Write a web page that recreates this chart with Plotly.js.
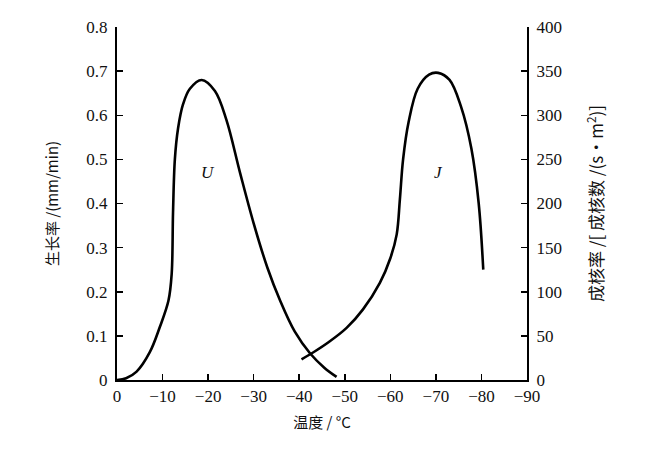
<!DOCTYPE html>
<html><head><meta charset="utf-8">
<script src="https://cdn.plot.ly/plotly-3.0.1.min.js"></script>
<style>html,body{margin:0;padding:0;background:#fff}#c{width:658px;height:464px}</style>
</head><body><div id="c"></div>
<script>
// Growth rate U (mm/min) vs temperature
const uTemp = [0, -2, -4.3, -7.2, -9.4, -11.3, -12, -12.3, -12.7, -13.4, -14.5, -16, -18.6, -21.5, -24, -27, -30, -33, -35.8, -39, -42.4, -45.5, -48.2];
const uRate = [0, 0.004, 0.019, 0.063, 0.12, 0.18, 0.24, 0.38, 0.5, 0.57, 0.625, 0.66, 0.68, 0.655, 0.59, 0.47, 0.355, 0.255, 0.18, 0.11, 0.06, 0.028, 0.007];
// Nucleation rate J (nuclei/(s·m²)) vs temperature
const jTemp = [-40.5, -43.3, -46.5, -50.4, -54, -57.7, -60, -61.4, -62.1, -62.8, -64, -66, -68.5, -70.5, -73, -75.5, -77.8, -79.4, -80.4];
const jRate = [23.5, 32, 43, 59, 80, 110, 138, 165, 205, 250, 292, 330, 346, 348, 340, 310, 262, 200, 125];
const xTicks = [0, -10, -20, -30, -40, -50, -60, -70, -80, -90];
const leftTicks = [0, 0.1, 0.2, 0.3, 0.4, 0.5, 0.6, 0.7, 0.8];
const rightTicks = [0, 50, 100, 150, 200, 250, 300, 350, 400];
const curveLabels = [{text: 'U', x: -20, y: 0.47}, {text: 'J', x: -70.5, y: 0.47}];

const serif = "'Liberation Serif', 'Times New Roman', serif";
const cjk = "'Noto Sans CJK SC', sans-serif";
const lineStyle = {color: '#000', width: 2.6, shape: 'spline', smoothing: 1};

const traces = [
  {x: uTemp, y: uRate, type: 'scatter', mode: 'lines', line: lineStyle, yaxis: 'y', hoverinfo: 'skip'},
  {x: jTemp, y: jRate, type: 'scatter', mode: 'lines', line: lineStyle, yaxis: 'y2', hoverinfo: 'skip'}
];

const axisCommon = {
  showgrid: false, zeroline: false, showline: true, linecolor: '#000', linewidth: 2,
  ticks: 'inside', ticklen: 6, tickwidth: 1.5, tickcolor: '#000',
  tickfont: {family: serif, size: 17, color: '#111'}
};

const layout = {
  width: 658, height: 464,
  margin: {l: 117, r: 131, t: 27, b: 84},
  paper_bgcolor: '#fff', plot_bgcolor: '#fff',
  showlegend: false,
  xaxis: Object.assign({}, axisCommon, {
    range: [0, -90], tickvals: xTicks, ticktext: xTicks.map(v => v === 0 ? '0' : '\u2212' + Math.abs(v)),
    title: {text: '温度 / °C', font: {family: cjk, size: 15, color: '#111'}, standoff: 12}
  }),
  yaxis: Object.assign({}, axisCommon, {
    range: [0, 0.8], tickvals: leftTicks, ticktext: leftTicks.map(v => String(v)),
    ticklabelstandoff: 4,
    title: {text: '生长率 /(mm/min)', font: {family: cjk, size: 15, color: '#111'}, standoff: 24}
  }),
  yaxis2: Object.assign({}, axisCommon, {
    range: [0, 400], tickvals: rightTicks, ticktext: rightTicks.map(v => String(v)),
    overlaying: 'y', side: 'right', ticklabelstandoff: 4,
    title: {text: '成核率 /[ 成核数 /(s·m<sup>2</sup>)]', font: {family: cjk, size: 17, color: '#111'}, standoff: 30}
  }),
  annotations: curveLabels.map(l => ({
    text: '<i>' + l.text + '</i>', x: l.x, y: l.y, xref: 'x', yref: 'y', showarrow: false,
    font: {family: serif, size: 17, color: '#111'}
  }))
};

Plotly.newPlot('c', traces, layout, {displayModeBar: false, staticPlot: true});
</script>
</body></html>
